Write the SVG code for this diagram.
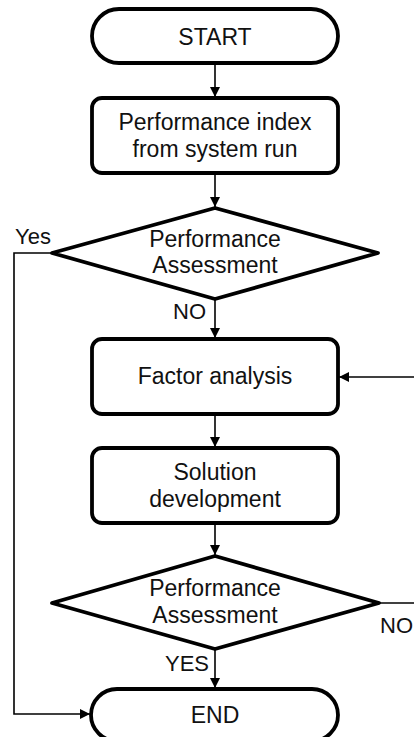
<svg xmlns="http://www.w3.org/2000/svg" width="414" height="737" viewBox="0 0 414 737">
<style>
.node{fill:#fff;stroke:#000;stroke-width:3.8;stroke-linejoin:round}
.t{font-family:"Liberation Sans",Arial,sans-serif;font-size:23px;fill:#111;text-anchor:middle}
.l{font-family:"Liberation Sans",Arial,sans-serif;font-size:22px;fill:#111}
.c{fill:none;stroke:#000;stroke-width:1.6}
</style>
<defs>
<marker id="ah" markerWidth="10" markerHeight="10" refX="10" refY="5" orient="auto" markerUnits="userSpaceOnUse">
<path d="M0,0 L10,5 L0,10 Z" fill="#000"/>
</marker>
</defs>
<rect width="414" height="737" fill="#fff"/>
<g id="connectors">
<line class="c" x1="215" y1="63" x2="215" y2="97" marker-end="url(#ah)"/>
<line class="c" x1="215" y1="173" x2="215" y2="207" marker-end="url(#ah)"/>
<line class="c" x1="215" y1="299" x2="215" y2="338" marker-end="url(#ah)"/>
<line class="c" x1="215" y1="414" x2="215" y2="447" marker-end="url(#ah)"/>
<line class="c" x1="215" y1="523" x2="215" y2="555" marker-end="url(#ah)"/>
<line class="c" x1="215" y1="649" x2="215" y2="688" marker-end="url(#ah)"/>
<polyline class="c" points="52,253 14,253 14,714 90,714" marker-end="url(#ah)"/>
<line class="c" x1="414" y1="377" x2="339" y2="377" marker-end="url(#ah)"/>
<line class="c" x1="379" y1="603" x2="414" y2="603"/>
<text class="l" x="15" y="244">Yes</text>
<text class="l" x="173" y="319">NO</text>
<text class="l" x="380" y="633">NO</text>
<text class="l" x="165" y="671">YES</text>
</g>
<g id="start">
<rect class="node" x="92" y="9" width="246" height="54" rx="27" ry="27"/>
<text class="t" x="215" y="45">START</text>
</g>
<g id="perf-index">
<rect class="node" x="92" y="98" width="246" height="75" rx="10" ry="10"/>
<text class="t" x="215" y="130">Performance index</text>
<text class="t" x="215" y="157">from system run</text>
</g>
<g id="assess1">
<polygon class="node" points="215,208 378,253 215,299 52,253"/>
<text class="t" x="215" y="247">Performance</text>
<text class="t" x="215" y="273">Assessment</text>
</g>
<g id="factor">
<rect class="node" x="92" y="339" width="246" height="75" rx="10" ry="10"/>
<text class="t" x="215" y="384">Factor analysis</text>
</g>
<g id="solution">
<rect class="node" x="92" y="448" width="246" height="75" rx="10" ry="10"/>
<text class="t" x="215" y="480">Solution</text>
<text class="t" x="215" y="507">development</text>
</g>
<g id="assess2">
<polygon class="node" points="215,556 379,603 215,649 52,603"/>
<text class="t" x="215" y="596">Performance</text>
<text class="t" x="215" y="623">Assessment</text>
</g>
<g id="end">
<rect class="node" x="91" y="689" width="247" height="52" rx="26" ry="26"/>
<text class="t" x="215" y="723">END</text>
</g>
</svg>
